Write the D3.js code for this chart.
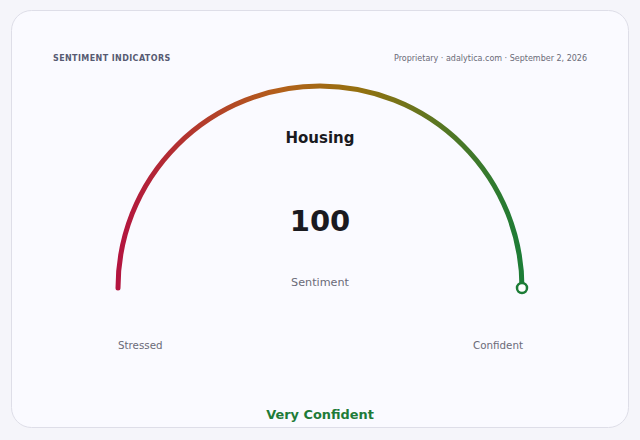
<!doctype html>
<html>
  <head>
    <meta charset="utf-8">
    <title>Sentiment Indicators - Housing</title>
    <script src="https://cdn.jsdelivr.net/npm/d3@7"></script>
    <style>
      html, body { margin: 0; padding: 0; background: #f5f5fa; }
      body { width: 640px; height: 440px; overflow: hidden; }
      svg { display: block; font-family: "DejaVu Sans", sans-serif; }
    </style>
  </head>
  <body>
    <div id="chart"></div>

    <script>
      // gauge data
      var indicator = ["Housing"];
      var values = [100];
      var domain = [0, 100];
      var endLabels = ["Stressed", "Confident"];
      var valueLabel = ["Sentiment"];
      var bandLabel = ["Very Confident"];
      var headerLeft = ["SENTIMENT INDICATORS"];
      var headerRight = ["Proprietary \u00b7 adalytica.com \u00b7 September 2, 2026"];

      var width = 640;
      var height = 440;
      var cx = 320;
      var cy = 288;
      var radius = 202;

      var svg = d3.select('#chart').append('svg')
        .attr('width', width)
        .attr('height', height);

      // card
      svg.append('rect')
        .attr('x', 11.5)
        .attr('y', 10.5)
        .attr('width', 617)
        .attr('height', 417)
        .attr('rx', 20)
        .attr('fill', '#fafaff')
        .attr('stroke', '#dedee8');

      var defs = svg.append('defs');
      var grad = defs.append('linearGradient')
        .attr('id', 'gaugeGrad')
        .attr('gradientUnits', 'userSpaceOnUse')
        .attr('x1', cx - radius).attr('y1', 0)
        .attr('x2', cx + radius).attr('y2', 0);
      grad.append('stop').attr('offset', '0%').attr('stop-color', '#b3143f');
      grad.append('stop').attr('offset', '40%').attr('stop-color', '#b3601a');
      grad.append('stop').attr('offset', '60%').attr('stop-color', '#93700f');
      grad.append('stop').attr('offset', '100%').attr('stop-color', '#1c7c36');

      // value -> angle, 0 on the left, 100 on the right
      var angle = d3.scaleLinear()
        .domain(domain)
        .range([Math.PI, 2 * Math.PI]);

      var p = d3.path();
      p.arc(cx, cy, radius, angle(domain[0]), angle(values[0]), false);

      svg.append('path')
        .attr('d', p.toString())
        .attr('fill', 'none')
        .attr('stroke', 'url(#gaugeGrad)')
        .attr('stroke-width', 5)
        .attr('stroke-linecap', 'round');

      // marker at current value
      svg.selectAll('circle.marker')
        .data(values)
        .enter()
        .append('circle')
        .attr('class', 'marker')
        .attr('cx', function (d) { return cx + radius * Math.cos(angle(d)); })
        .attr('cy', function (d) { return cy + radius * Math.sin(angle(d)); })
        .attr('r', 5)
        .attr('fill', '#ffffff')
        .attr('stroke', '#1c7c36')
        .attr('stroke-width', 2.5);

      // header
      svg.append('text')
        .attr('x', 53)
        .attr('y', 61)
        .attr('font-size', 8)
        .attr('font-weight', 'bold')
        .attr('letter-spacing', 0.4)
        .attr('fill', '#575a72')
        .text(headerLeft[0]);

      svg.append('text')
        .attr('x', 587)
        .attr('y', 61)
        .attr('text-anchor', 'end')
        .attr('font-size', 8)
        .attr('fill', '#6a6a78')
        .text(headerRight[0]);

      // center labels
      svg.append('text')
        .attr('x', cx)
        .attr('y', 143)
        .attr('text-anchor', 'middle')
        .attr('font-size', 15)
        .attr('font-weight', 'bold')
        .attr('fill', '#1a1a1f')
        .text(indicator[0]);

      svg.selectAll('text.value')
        .data(values)
        .enter()
        .append('text')
        .attr('class', 'value')
        .attr('x', cx)
        .attr('y', 231)
        .attr('text-anchor', 'middle')
        .attr('font-size', 29)
        .attr('font-weight', 'bold')
        .attr('fill', '#1a1a1f')
        .text(function (d) { return d; });

      svg.append('text')
        .attr('x', cx)
        .attr('y', 286)
        .attr('text-anchor', 'middle')
        .attr('font-size', 11.2)
        .attr('fill', '#6a6a78')
        .text(valueLabel[0]);

      // ends
      svg.append('text')
        .attr('x', cx - radius)
        .attr('y', 349)
        .attr('font-size', 10.3)
        .attr('fill', '#6a6a78')
        .text(endLabels[0]);

      svg.append('text')
        .attr('x', cx + radius + 1)
        .attr('y', 349)
        .attr('text-anchor', 'end')
        .attr('font-size', 10.3)
        .attr('fill', '#6a6a78')
        .text(endLabels[1]);

      svg.append('text')
        .attr('x', cx)
        .attr('y', 419)
        .attr('text-anchor', 'middle')
        .attr('font-size', 12.9)
        .attr('font-weight', 'bold')
        .attr('fill', '#1e7b38')
        .text(bandLabel[0]);
    </script>
  </body>
</html>
